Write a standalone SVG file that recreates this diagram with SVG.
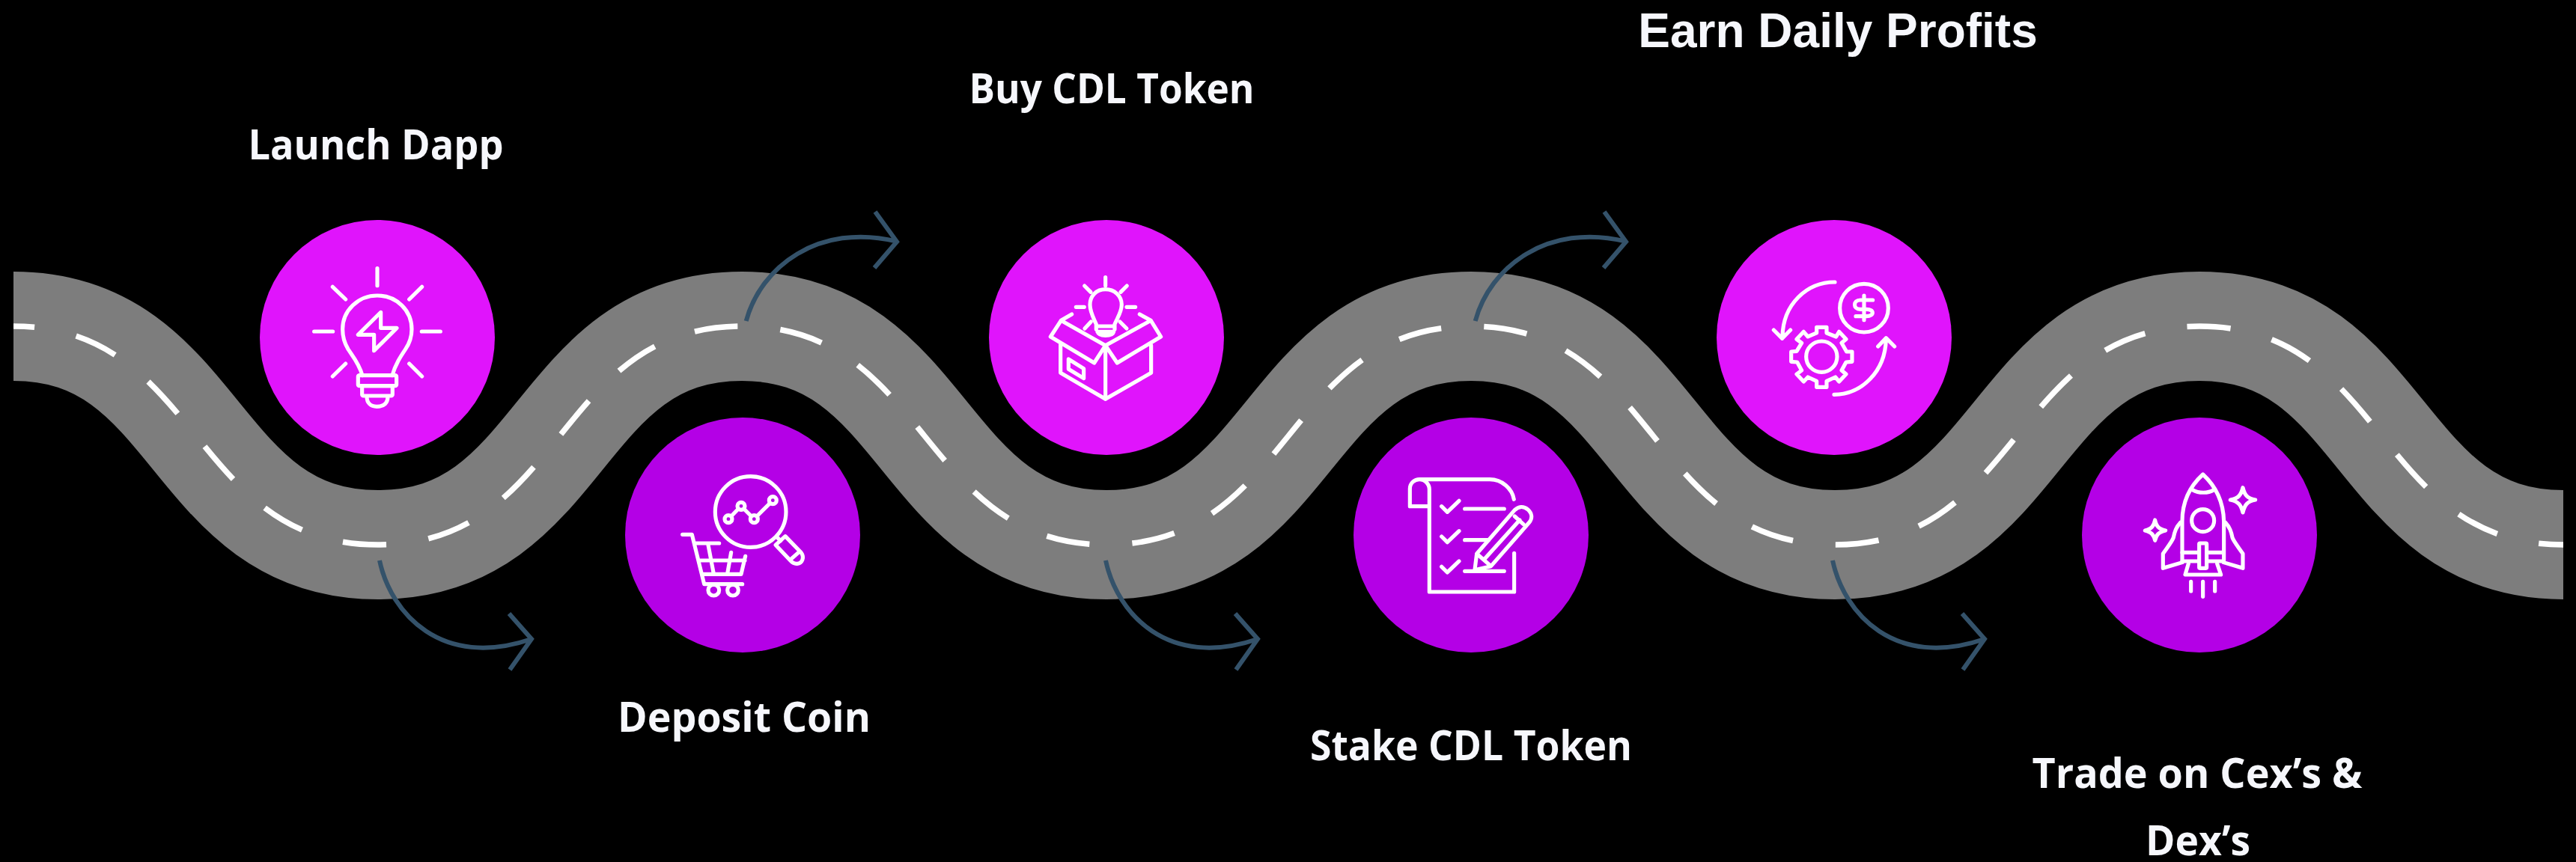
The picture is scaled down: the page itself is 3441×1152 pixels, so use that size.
<svg xmlns="http://www.w3.org/2000/svg" width="3441" height="1152" viewBox="0 0 3441 1152">
<style>
.bg{fill:#000}
.road{fill:none;stroke:#7d7d7d;stroke-width:146}
.lane{fill:none;stroke:#fff;stroke-width:7.5;stroke-dasharray:58 57;stroke-dashoffset:30}
.conn{fill:none;stroke:#34526a;stroke-width:6}
.a{fill:#e014fc}
.b{fill:#b400e6}
.icon{fill:none;stroke:#fff;stroke-width:15.5;stroke-linecap:round;stroke-linejoin:round}
.lbl{font-family:"Open Sans",sans-serif;font-weight:700;font-size:56px;fill:#f6f7fc;text-anchor:middle}
.lbl2{font-family:"Liberation Sans",Arial,sans-serif;font-weight:700;font-size:64px;fill:#f6f7fc;text-anchor:middle}
</style>
<defs>
<path id="up" d="M996.7 429C1016 357 1093 297 1198 322.7M1169 283L1198 323L1168 358"/>
<path id="down" d="M507 749C522 820 590 895 710 854M680 820L710 854L681 895"/>
</defs>
<rect class="bg" width="3441" height="1152"/>
<g id="road">
<path id="road-center" class="road" d="M18 436C268 436 255 728 505 728S741 436 991 436S1228 728 1478 728S1715 436 1965 436S2201 728 2451 728S2688 436 2938 436S3174 728 3424 728"/>
<path id="road-lane" class="lane" d="M18 436C268 436 255 728 505 728S741 436 991 436S1228 728 1478 728S1715 436 1965 436S2201 728 2451 728S2688 436 2938 436S3174 728 3424 728"/>
</g>
<g id="connectors" class="conn">
<use href="#down"/>
<use href="#up"/>
<use href="#down" x="970"/>
<use href="#up" x="974"/>
<use href="#down" x="1941"/>
</g>
<g id="node-launch">
<circle class="a" cx="504" cy="451" r="157"/>
<g class="icon" transform="translate(340 280) scale(.3333)">
<path d="M492 236V305M313 310L365 360M671 310L620 360M239 489H314M670 489H745M365 618L313 669M620 618L671 669"/>
<path d="M432 665C420 620 395 590 375 560C360 535 353 510 353 480C353 405 415 345 492 345C570 345 630 405 630 480C630 510 622 535 605 560C585 590 565 620 552 665"/>
<rect x="415" y="665" width="154" height="42" rx="5"/>
<rect x="431" y="707" width="122" height="40" rx="5"/>
<path d="M450 750C450 775 465 790 490 790C520 790 534 775 534 750"/>
<path d="M506 412L415 502H479V566L570 475H506Z"/>
</g>
<text class="lbl" x="502" y="213" textLength="341" lengthAdjust="spacingAndGlyphs">Launch Dapp</text>
</g>
<g id="node-deposit">
<circle class="b" cx="992" cy="715" r="157"/>
<g class="icon" transform="translate(820 550) scale(.3333)">
<circle cx="548" cy="402" r="142"/>
<circle cx="459" cy="431" r="15"/><circle cx="510" cy="379" r="15"/><circle cx="562" cy="431" r="15"/><circle cx="637" cy="356" r="15"/>
<path d="M470 420L499 390M521 390L551 420M573 420L626 367M655 505L668 518"/>
<path d="M648 535L687 500L750 565C765 585 755 608 735 610C722 612 712 603 705 595ZM712 590L740 565"/>
<path d="M275 493H313L362 692H515M325 528H422M527 580L510 652H353M342 597H525M378 535L400 650M470 565L455 650"/>
<circle cx="400" cy="716" r="22"/><circle cx="477" cy="716" r="22"/>
</g>
<text class="lbl" x="994" y="978" textLength="338" lengthAdjust="spacingAndGlyphs">Deposit Coin</text>
</g>
<g id="node-buy">
<circle class="a" cx="1478" cy="451" r="157"/>
<g class="icon" transform="translate(1310 280) scale(.3333)">
<path d="M500 272V305M416 306L441 331M586 306L561 331M382 391H415M585 391H620M442 450L417 477M558 450L585 477"/>
<path d="M463 480V460C450 430 438 410 438 382C438 345 465 320 500 320C535 320 565 345 565 382C565 410 550 430 537 460V480M465 468H535M468 490H532M468 490C472 503 485 505 500 505C515 505 530 503 533 490"/>
<path d="M500 545L322 445L280 510L455 615L500 545L682 445L722 510L547 615L500 545M322 445L365 420M682 445L637 420M320 540V655L500 760L683 655V545M500 545V760"/>
<path d="M352 600V640L413 677V638Z"/>
</g>
<text class="lbl" x="1485" y="138" textLength="381" lengthAdjust="spacingAndGlyphs">Buy CDL Token</text>
</g>
<g id="node-stake">
<circle class="b" cx="1965" cy="715" r="157"/>
<g class="icon" transform="translate(1790 550) scale(.3333)">
<path d="M358 380V723H698V568M358 380H280V310C280 285 300 272 318 272C340 272 358 290 358 312V380M318 272H600C650 272 690 310 697 352"/>
<path d="M407 380L430 403L477 358M407 501L430 524L477 479M407 622L430 645L477 600M500 390H658M500 515H595M500 640H658"/>
<path d="M540 635L548 570L700 395C715 380 735 378 752 392C770 408 772 428 758 445L605 620ZM548 570L605 620M580 590L720 435M700 420L735 452"/>
</g>
<text class="lbl" x="1965" y="1016" textLength="430" lengthAdjust="spacingAndGlyphs">Stake CDL Token</text>
</g>
<g id="node-earn">
<circle class="a" cx="2450" cy="451" r="157"/>
<g class="icon" transform="translate(2280 280) scale(.3333)">
<circle cx="630" cy="395" r="97"/>
<path d="M630 345V443M665 363H615C585 363 585 400 615 400H640C672 400 672 428 640 428H597"/>
<path d="M513 291C400 291 305 380 303 510M268 483L302 517L335 483M510 742C620 742 715 650 718 520M686 549L718 515L752 549"/>
<circle cx="460" cy="590" r="62"/>
<path d="M480 472V495L518 510L530 490L558 520L540 535L560 570H582V610L558 612L540 645L558 660L530 690L515 672L480 688V712H440V688L405 672L388 690L360 660L380 645L362 612L338 610V570L360 568L380 535L360 520L388 490L405 510L440 495V472Z"/>
</g>
<text class="lbl2" x="2455" y="63">Earn Daily Profits</text>
</g>
<g id="node-trade">
<circle class="b" cx="2938" cy="715" r="157"/>
<g class="icon" transform="translate(2770 550) scale(.3333)">
<path d="M435 595V440C435 360 465 300 518 252C570 300 600 360 602 440V595M478 315C500 328 540 328 560 315"/>
<circle cx="518" cy="437" r="45"/>
<path d="M435 565H500M535 565H600M435 600H500M535 600H600"/>
<rect x="503" y="528" width="30" height="100" rx="3"/>
<path d="M428 445C410 465 405 480 400 505C395 520 375 545 358 570V628L435 605M608 445C626 465 631 480 636 505C641 520 661 545 678 570V628L601 605"/>
<path d="M460 610L447 654H590L575 610M470 682V720M518 682V742M566 682V720"/>
<path d="M678 305C685 335 695 348 728 354C695 360 685 375 678 405C671 375 660 360 628 354C660 348 671 335 678 305Z"/>
<path d="M326 435C331 460 340 470 368 477C340 484 331 494 326 517C321 494 312 484 286 477C312 470 321 460 326 435Z"/>
</g>
<text class="lbl" x="2935" y="1053" textLength="441" lengthAdjust="spacingAndGlyphs">Trade on Cex’s &amp;</text>
<text class="lbl" x="2936" y="1143" textLength="140" lengthAdjust="spacingAndGlyphs">Dex’s</text>
</g>
</svg>
